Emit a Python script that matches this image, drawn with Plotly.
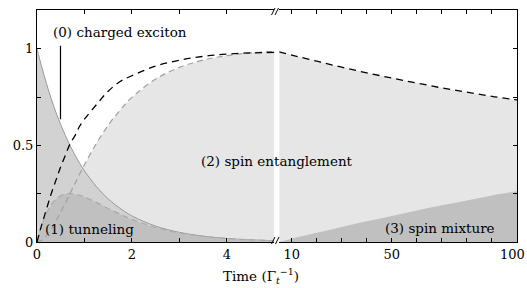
import plotly.graph_objects as go

# ---- data ----
t_left = [0, 0.1, 0.2, 0.3, 0.4, 0.5, 0.6, 0.7, 0.8, 0.9, 1.0, 1.25, 1.5, 1.75, 2.0, 2.5, 3.0, 3.5, 4.0, 4.5, 5.0]
exciton = [1.00, 0.905, 0.82, 0.74, 0.67, 0.607, 0.55, 0.497, 0.45, 0.407, 0.368, 0.287, 0.223, 0.174, 0.135, 0.082, 0.05, 0.03, 0.018, 0.011, 0.007]
tunneling = [0.0, 0.086, 0.149, 0.192, 0.221, 0.239, 0.248, 0.25, 0.247, 0.241, 0.233, 0.205, 0.173, 0.144, 0.117, 0.075, 0.047, 0.029, 0.018, 0.011, 0.007]
entangle_left = [0.0, 0.009, 0.033, 0.068, 0.109, 0.155, 0.203, 0.253, 0.303, 0.352, 0.40, 0.509, 0.604, 0.682, 0.748, 0.843, 0.903, 0.941, 0.964, 0.978, 0.985]
total_left = [0.0, 0.09, 0.17, 0.25, 0.32, 0.39, 0.45, 0.51, 0.55, 0.60, 0.635, 0.71, 0.78, 0.83, 0.86, 0.91, 0.94, 0.96, 0.972, 0.978, 0.981]

t_right = [5, 10, 20, 30, 40, 50, 60, 70, 80, 90, 100]
total_right = [0.983, 0.967, 0.935, 0.904, 0.875, 0.848, 0.822, 0.797, 0.775, 0.753, 0.735]
mixture = [0.0, 0.017, 0.048, 0.078, 0.107, 0.135, 0.163, 0.19, 0.215, 0.24, 0.263]

left_ticks = [0, 1, 2, 3, 4]
left_ticktext = ["0", "", "2", "", "4"]
right_ticks = [10, 20, 30, 40, 50, 60, 70, 80, 90, 100]
right_ticktext = ["10", "", "", "", "50", "", "", "", "", ""]
right_last_label = "100"
y_ticks = [0, 0.25, 0.5, 0.75, 1]
y_ticktext = ["0", "", "0.5", "", "1"]

FONT = "DejaVu Serif"
LIGHT = "#e6e6e6"
MID = "#d2d2d2"
DARK = "#c0c0c0"

fig = go.Figure()

# left panel
fig.add_trace(go.Scatter(x=t_left, y=entangle_left, fill="tozeroy", fillcolor=LIGHT,
                         mode="lines", line=dict(width=0), xaxis="x", yaxis="y", hoverinfo="skip"))
fig.add_trace(go.Scatter(x=t_left, y=exciton, fill="tozeroy", fillcolor=MID,
                         mode="lines", line=dict(color="#999999", width=1, shape="spline"),
                         xaxis="x", yaxis="y"))
fig.add_trace(go.Scatter(x=t_left, y=tunneling, fill="tozeroy", fillcolor=DARK,
                         mode="lines", line=dict(color="#aaaaaa", width=1.2, dash="6px,4px", shape="spline"),
                         xaxis="x", yaxis="y"))
fig.add_trace(go.Scatter(x=t_left, y=entangle_left, mode="lines",
                         line=dict(color="#a0a0a0", width=1.2, dash="6px,4px", shape="spline"),
                         xaxis="x", yaxis="y"))
fig.add_trace(go.Scatter(x=t_left, y=total_left, mode="lines",
                         line=dict(color="black", width=1.3, dash="7px,5px", shape="spline"),
                         xaxis="x", yaxis="y"))

# right panel
fig.add_trace(go.Scatter(x=t_right, y=total_right, fill="tozeroy", fillcolor=LIGHT,
                         mode="lines", line=dict(width=0), xaxis="x2", yaxis="y2"))
fig.add_trace(go.Scatter(x=t_right, y=mixture, fill="tozeroy", fillcolor=DARK,
                         mode="lines", line=dict(width=0, shape="spline"), xaxis="x2", yaxis="y2"))
fig.add_trace(go.Scatter(x=t_right, y=total_right, mode="lines",
                         line=dict(color="black", width=1.3, dash="7px,5px", shape="spline"),
                         xaxis="x2", yaxis="y2"))

axis_common = dict(showline=True, linecolor="black", linewidth=1, ticks="inside", ticklen=4,
                   tickcolor="black", tickwidth=1, showgrid=False, zeroline=False,
                   tickfont=dict(family=FONT, size=13, color="black"))

L0, L1 = 0.0, 0.4944
R0, R1 = 0.5046, 1.0

fig.update_layout(
    width=527, height=288,
    margin=dict(l=37, r=10, t=10, b=46),
    paper_bgcolor="white", plot_bgcolor="rgba(0,0,0,0)",
    showlegend=False,
    font=dict(family=FONT, size=13, color="black"),
    xaxis=dict(domain=[L0, L1], range=[0, 5], tickvals=left_ticks, ticktext=left_ticktext,
               mirror="ticks", anchor="y", **axis_common),
    xaxis2=dict(domain=[R0, R1], range=[5, 100], tickvals=right_ticks, ticktext=right_ticktext,
                mirror="ticks", anchor="y2", **axis_common),
    yaxis=dict(domain=[0, 1], range=[0, 1.2], tickvals=y_ticks, ticktext=y_ticktext,
               anchor="x", side="left", **axis_common),
    yaxis2=dict(domain=[0, 1], range=[0, 1.2], tickvals=y_ticks, showticklabels=False,
                anchor="x2", side="right", **axis_common),
)

ann_font = dict(family=FONT, size=13.5, color="black")
# "100" tick label at the right end
fig.add_annotation(x=1.0, y=0, xref="paper", yref="paper", xshift=10, yshift=-3, text=right_last_label,
                   showarrow=False, xanchor="right", yanchor="top",
                   font=dict(family=FONT, size=13, color="black"))
fig.add_annotation(x=0.29, y=1.085, xref="x", yref="y", text="(0) charged exciton",
                   showarrow=False, xanchor="left", yanchor="middle", font=ann_font)
fig.add_annotation(x=0.12, y=0.065, xref="x", yref="y", text="(1) tunneling",
                   showarrow=False, xanchor="left", yanchor="middle", font=ann_font)
fig.add_annotation(x=3.42, y=0.42, xref="x", yref="y", text="(2) spin entanglement",
                   showarrow=False, xanchor="left", yanchor="middle", font=ann_font)
fig.add_annotation(x=92.2, y=0.07, xref="x2", yref="y2", text="(3) spin mixture",
                   showarrow=False, xanchor="right", yanchor="middle", font=ann_font)
fig.add_annotation(x=(261 - 37) / 480, y=-0.145, xref="paper", yref="paper",
                   text="Time (Γ<sub><i>t</i></sub><sup>−1</sup>)",
                   showarrow=False, xanchor="center", yanchor="middle", font=ann_font)

# pointer line for (0)
fig.add_shape(type="line", xref="x", yref="y", x0=0.495, x1=0.495, y0=1.015, y1=0.635,
              line=dict(color="black", width=1.2))

# axis break marks
def px(xp):
    return (xp - 37) / 480

def py(yp):
    return (242 - yp) / 232

for (x0, y0, x1, y1) in [(271.5, 15, 275, 8), (275, 15, 278.5, 8),
                         (271.5, 244, 275, 237), (275.5, 244, 279, 237)]:
    fig.add_shape(type="line", xref="paper", yref="paper", x0=px(x0), y0=py(y0), x1=px(x1), y1=py(y1),
                  line=dict(color="black", width=1))

fig.write_html("out.html", config={"displayModeBar": False},
               post_script="document.body.style.margin='0';document.body.style.overflow='hidden';")
